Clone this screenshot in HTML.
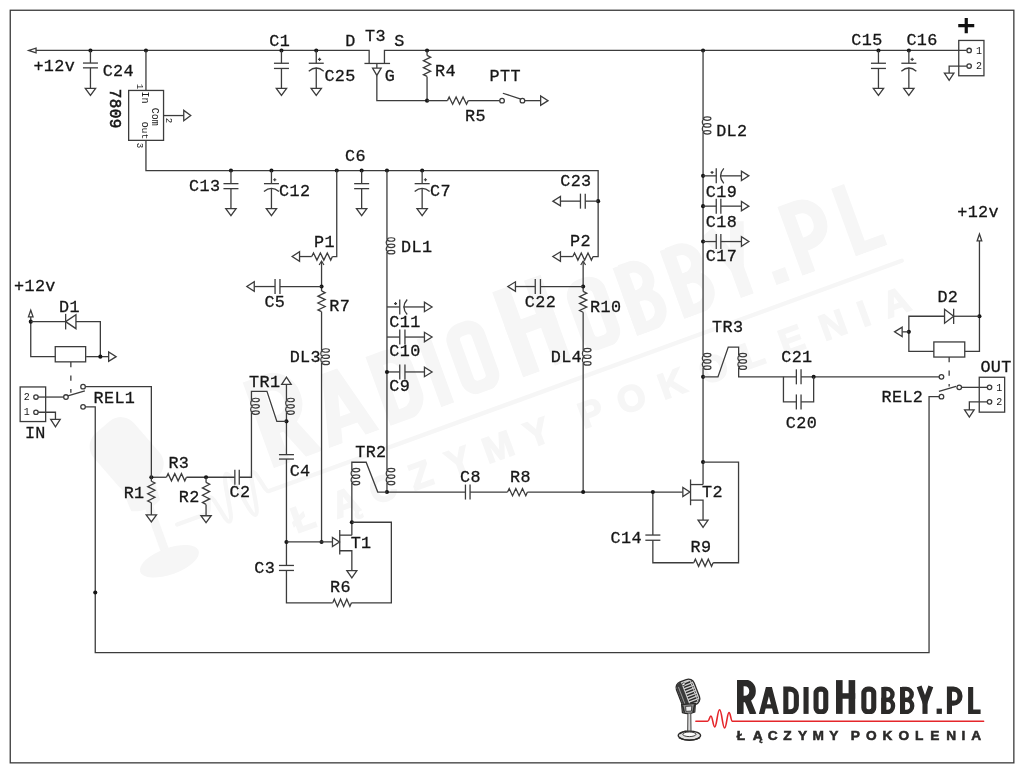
<!DOCTYPE html>
<html><head><meta charset="utf-8"><title>schematic</title>
<style>
html,body{margin:0;padding:0;background:#fff}
svg{display:block;will-change:transform}
.sch path,.sch rect,.sch circle{fill:none;stroke:#3c3c3c;stroke-width:1.3;stroke-linecap:butt;stroke-linejoin:miter}
.sch .d{fill:#161616;stroke:none}
.sch .o{fill:#fff}
.sch .t{stroke-width:1.2}
.sch .e{stroke:#fff;stroke-width:1.6}
text{font-family:"Liberation Mono",monospace}
text.l{fill:#161616;stroke:#161616;stroke-width:.3px;letter-spacing:.35px}
text.m{fill:#161616}
text.b{stroke-width:.55px}
text.s{font-family:"Liberation Sans",sans-serif;font-weight:bold}
</style></head><body>
<svg width="1024" height="773" viewBox="0 0 1024 773">
<defs><clipPath id="capband"><rect x="730" y="679.9" width="260" height="34"/></clipPath></defs>
<rect width="1024" height="773" fill="#fff"/>
<g transform="translate(901.4 260.8) rotate(-20) scale(2.68) translate(-983.5 -721.25)">
<g clip-path="url(#capband)"><path d="M740.3 713.9 V682.87 H744.94 A7.56 7.56 0 0 1 752.5 690.44 V691.46 A7.56 7.56 0 0 1 744.94 699.03 H740.3" fill="none" stroke="#f6f6f6" stroke-width="6.6" stroke-linejoin="miter" stroke-miterlimit="6"/><path d="M746.6 698.03 L753.4 714.7" fill="none" stroke="#f6f6f6" stroke-width="6.27" stroke-linejoin="miter" stroke-miterlimit="6"/><path fill-rule="evenodd" fill="#f6f6f6" d="M758.9 713.9 L765.9 687 L771.9 687 L778.9 713.9 L773.49 713.9 L772.09 708.52 L765.71 708.52 L764.31 713.9 Z M766.83 704.22 L770.97 704.22 L768.9 696.25 Z"/><path d="M785.85 689.14 H790.05 A6.3 6.3 0 0 1 796.35 695.44 V705.46 A6.3 6.3 0 0 1 790.05 711.76 H785.85 Z" fill="none" stroke="#f6f6f6" stroke-width="5.1" stroke-linejoin="miter" stroke-miterlimit="6"/><rect x="803.5" y="687" width="5.1" height="26.9" fill="#f6f6f6"/><path d="M816.05 693.02 A3.88 3.88 0 0 1 819.93 689.14 H821.87 A3.88 3.88 0 0 1 825.75 693.02 V707.88 A3.88 3.88 0 0 1 821.87 711.76 H819.93 A3.88 3.88 0 0 1 816.05 707.88 Z" fill="none" stroke="#f6f6f6" stroke-width="5.1" stroke-linejoin="miter" stroke-miterlimit="6"/><rect x="836" y="680.1" width="6.6" height="33.8" fill="#f6f6f6"/><rect x="848.6" y="680.1" width="6.6" height="33.8" fill="#f6f6f6"/><rect x="836" y="693.21" width="19.2" height="5.54" fill="#f6f6f6"/><path d="M863.85 693.1 A3.96 3.96 0 0 1 867.81 689.14 H869.79 A3.96 3.96 0 0 1 873.75 693.1 V707.8 A3.96 3.96 0 0 1 869.79 711.76 H867.81 A3.96 3.96 0 0 1 863.85 707.8 Z" fill="none" stroke="#f6f6f6" stroke-width="5.1" stroke-linejoin="miter" stroke-miterlimit="6"/><path d="M883.49 688.84 H886.97 A5.53 5.53 0 0 1 892.51 694.38 V694.38 A5.53 5.53 0 0 1 886.97 699.91 H883.49" fill="none" stroke="#f6f6f6" stroke-width="4.39" stroke-linejoin="miter" stroke-miterlimit="6"/><path d="M883.49 699.91 H887.3 A5.71 5.71 0 0 1 893.01 705.62 V706.35 A5.71 5.71 0 0 1 887.3 712.06 H883.49 Z" fill="none" stroke="#f6f6f6" stroke-width="4.39" stroke-linejoin="miter" stroke-miterlimit="6"/><rect x="881.3" y="687" width="5.1" height="26.9" fill="#f6f6f6"/><path d="M902.19 688.84 H906.17 A5.53 5.53 0 0 1 911.71 694.38 V694.38 A5.53 5.53 0 0 1 906.17 699.91 H902.19" fill="none" stroke="#f6f6f6" stroke-width="4.39" stroke-linejoin="miter" stroke-miterlimit="6"/><path d="M902.19 699.91 H906.2 A6.01 6.01 0 0 1 912.21 705.92 V706.05 A6.01 6.01 0 0 1 906.2 712.06 H902.19 Z" fill="none" stroke="#f6f6f6" stroke-width="4.39" stroke-linejoin="miter" stroke-miterlimit="6"/><rect x="900" y="687" width="5.1" height="26.9" fill="#f6f6f6"/><path d="M919.15 686.4 L925 702.6 L930.85 686.4" fill="none" stroke="#f6f6f6" stroke-width="5.1" stroke-linejoin="miter" stroke-miterlimit="6"/><rect x="922.45" y="700.6" width="5.1" height="13.3" fill="#f6f6f6"/><rect x="936.6" y="708.6" width="5.3" height="5.3" fill="#f6f6f6"/><path d="M949.45 713.9 V689.14 H953.44 A6.51 6.51 0 0 1 959.95 695.65 V696.63 A6.51 6.51 0 0 1 953.44 703.14 H949.45" fill="none" stroke="#f6f6f6" stroke-width="5.1" stroke-linejoin="miter" stroke-miterlimit="6"/><path d="M968.1 687 V713.9 H980.6 V709.51 H973.2 V687 Z" fill="#f6f6f6"/></g>
<path d="M695.9 721.3 H707.6 C709.2 721.3 709.6 716 710.9 716 C712.6 716 713 726.9 714.7 726.9 C716.8 726.9 717.4 709.8 719.6 709.8 C721.8 709.8 722.5 727.9 724.6 727.9 C726.6 727.9 727.1 712.6 729 712.6 C730.6 712.6 730.8 721.3 732.4 721.3 H983.6" fill="none" stroke="#f6f6f6" stroke-width="1.6" stroke-linecap="round" stroke-linejoin="round"/>
<text x="740.9" y="739.7" font-size="13.7" text-anchor="middle" class="s" fill="#f6f6f6" stroke="#f6f6f6" stroke-width=".55">Ł</text>
<text x="757.6" y="739.7" font-size="13.7" text-anchor="middle" class="s" fill="#f6f6f6" stroke="#f6f6f6" stroke-width=".55">Ą</text>
<text x="772.6" y="739.7" font-size="13.7" text-anchor="middle" class="s" fill="#f6f6f6" stroke="#f6f6f6" stroke-width=".55">C</text>
<text x="787.5" y="739.7" font-size="13.7" text-anchor="middle" class="s" fill="#f6f6f6" stroke="#f6f6f6" stroke-width=".55">Z</text>
<text x="802.6" y="739.7" font-size="13.7" text-anchor="middle" class="s" fill="#f6f6f6" stroke="#f6f6f6" stroke-width=".55">Y</text>
<text x="818.3" y="739.7" font-size="13.7" text-anchor="middle" class="s" fill="#f6f6f6" stroke="#f6f6f6" stroke-width=".55">M</text>
<text x="833.9" y="739.7" font-size="13.7" text-anchor="middle" class="s" fill="#f6f6f6" stroke="#f6f6f6" stroke-width=".55">Y</text>
<text x="855.2" y="739.7" font-size="13.7" text-anchor="middle" class="s" fill="#f6f6f6" stroke="#f6f6f6" stroke-width=".55">P</text>
<text x="871.3" y="739.7" font-size="13.7" text-anchor="middle" class="s" fill="#f6f6f6" stroke="#f6f6f6" stroke-width=".55">O</text>
<text x="887.4" y="739.7" font-size="13.7" text-anchor="middle" class="s" fill="#f6f6f6" stroke="#f6f6f6" stroke-width=".55">K</text>
<text x="903.8" y="739.7" font-size="13.7" text-anchor="middle" class="s" fill="#f6f6f6" stroke="#f6f6f6" stroke-width=".55">O</text>
<text x="919.3" y="739.7" font-size="13.7" text-anchor="middle" class="s" fill="#f6f6f6" stroke="#f6f6f6" stroke-width=".55">L</text>
<text x="934.8" y="739.7" font-size="13.7" text-anchor="middle" class="s" fill="#f6f6f6" stroke="#f6f6f6" stroke-width=".55">E</text>
<text x="951.3" y="739.7" font-size="13.7" text-anchor="middle" class="s" fill="#f6f6f6" stroke="#f6f6f6" stroke-width=".55">N</text>
<text x="963.5" y="739.7" font-size="13.7" text-anchor="middle" class="s" fill="#f6f6f6" stroke="#f6f6f6" stroke-width=".55">I</text>
<text x="976.3" y="739.7" font-size="13.7" text-anchor="middle" class="s" fill="#f6f6f6" stroke="#f6f6f6" stroke-width=".55">A</text>
<g transform="translate(-0.9 -2.6)"><g transform="rotate(-21 688 693)"><rect x="678" y="679.4" width="19.8" height="27.4" rx="6.4" fill="#f6f6f6"/></g><path d="M682 704 L694.6 703 L694 713 Q688.6 716 682.4 713.4 Z" fill="#f6f6f6"/><rect x="687.6" y="713" width="3.2" height="19" fill="#f6f6f6"/><ellipse cx="689.4" cy="735.8" rx="11.6" ry="4.9" fill="#f6f6f6"/></g>
</g>
<g class="sch" transform="translate(.45 .45)">
<rect x="9.8" y="9.8" width="1003.6" height="752.6" style="stroke:#3a3a3a;stroke-width:1.3"/>
<path class="o" d="M35.6 47.6 L35.6 52.4 L28.2 50 Z"/>
<path d="M35.6 50 L368.7 50 L368.7 63"/>
<path d="M384 63 L384 50 L966.4 50"/>
<circle class="d" cx="90" cy="50" r="2.05"/>
<circle class="d" cx="145.5" cy="50" r="2.05"/>
<circle class="d" cx="281" cy="50" r="2.05"/>
<circle class="d" cx="315.8" cy="50" r="2.05"/>
<circle class="d" cx="426.6" cy="50" r="2.05"/>
<circle class="d" cx="702.6" cy="50" r="2.05"/>
<circle class="d" cx="878" cy="50" r="2.05"/>
<circle class="d" cx="908.4" cy="50" r="2.05"/>
<path d="M90 50 L90 62.6"/>
<path d="M82.5 62.6 L97.5 62.6"/>
<path d="M82.5 67.4 L97.5 67.4"/>
<path d="M90 67.4 L90 88"/>
<path class="o" d="M84.85 88 L95.15 88 L90 95 Z"/>
<path d="M145.5 50 L145.5 90"/>
<rect x="128.2" y="90" width="34.9" height="49.9"/>
<path d="M145.5 139.9 L145.5 170.1 L597.7 170.1 L597.7 256.1 L592.6 256.1"/>
<path d="M163.1 115.1 L183.3 115.1"/>
<path class="o" d="M183.3 109.95 L183.3 120.25 L190.3 115.1 Z"/>
<path d="M281 50 L281 62.8"/>
<path d="M273.5 62.8 L288.5 62.8"/>
<path d="M273.5 68 L288.5 68"/>
<path d="M281 68 L281 88"/>
<path class="o" d="M275.85 88 L286.15 88 L281 95 Z"/>
<path d="M315.8 50 L315.8 62.8"/>
<path d="M308.3 62.8 L323.3 62.8"/>
<path d="M308.3 70.75 Q315.8 64.25 323.3 70.75"/>
<path class="t" d="M317.5 58.9 h3.2 M319.1 57.3 v3.2"/>
<path d="M315.8 67.2 L315.8 88"/>
<path class="o" d="M310.65 88 L320.95 88 L315.8 95 Z"/>
<path d="M364 63 L389.6 63"/>
<path class="o" d="M372.1 67.6 L380.7 67.6 L376.4 75 Z"/>
<path d="M376.4 63 L376.4 67.6"/>
<path d="M376.4 75 L376.4 100.2 L426.6 100.2"/>
<path d="M426.6 50 L426.6 55"/>
<path d="M426.6 55 L430.2 56.75 L423 60.25 L430.2 63.75 L423 67.25 L430.2 70.75 L423 74.25 L426.6 76"/>
<path d="M426.6 76 L426.6 100.2"/>
<circle class="d" cx="426.6" cy="100.2" r="2.05"/>
<path d="M426.6 100.2 L447 100.2"/>
<path d="M447 100.2 L448.73 96.6 L452.2 103.8 L455.67 96.6 L459.13 103.8 L462.6 96.6 L466.07 103.8 L467.8 100.2"/>
<path d="M467.8 100.2 L499.3 100.2"/>
<circle class="o" cx="501.6" cy="100.2" r="2.3"/>
<circle class="o" cx="522" cy="100.2" r="2.3"/>
<path d="M502.4 92.8 L520.4 98.6"/>
<path d="M524.3 100.2 L540.2 100.2"/>
<path class="o" d="M540.2 95.45 L540.2 104.95 L547.6 100.2 Z"/>
<path d="M878 50 L878 62.8"/>
<path d="M870.5 62.8 L885.5 62.8"/>
<path d="M870.5 68 L885.5 68"/>
<path d="M878 68 L878 88"/>
<path class="o" d="M872.85 88 L883.15 88 L878 95 Z"/>
<path d="M908.4 50 L908.4 62.8"/>
<path d="M900.9 62.8 L915.9 62.8"/>
<path d="M900.9 70.75 Q908.4 64.25 915.9 70.75"/>
<path class="t" d="M910.1 58.9 h3.2 M911.7 57.3 v3.2"/>
<path d="M908.4 67.2 L908.4 88"/>
<path class="o" d="M903.25 88 L913.55 88 L908.4 95 Z"/>
<rect x="958.3" y="40" width="25.2" height="35.3"/>
<circle class="o" cx="968.7" cy="50" r="2.2"/>
<circle class="o" cx="968.7" cy="65.6" r="2.2"/>
<path d="M966.5 65.6 L948.7 65.6 L948.7 72.6"/>
<path class="o" d="M943.95 72.6 L953.45 72.6 L948.7 79.8 Z"/>
<path d="M957.8 25.2 h16 M965.8 17.6 v15.2" style="stroke-width:3.2;stroke:#111"/>
<circle class="d" cx="230.5" cy="170.1" r="2.05"/>
<circle class="d" cx="271" cy="170.1" r="2.05"/>
<circle class="d" cx="336.3" cy="170.1" r="2.05"/>
<circle class="d" cx="361.2" cy="170.1" r="2.05"/>
<circle class="d" cx="386.5" cy="170.1" r="2.05"/>
<circle class="d" cx="421.7" cy="170.1" r="2.05"/>
<path d="M230.5 170.1 L230.5 183.2"/>
<path d="M223 183.2 L238 183.2"/>
<path d="M223 188.2 L238 188.2"/>
<path d="M230.5 188.2 L230.5 208.1"/>
<path class="o" d="M225.35 208.1 L235.65 208.1 L230.5 215.1 Z"/>
<path d="M271 170.1 L271 183.2"/>
<path d="M263.5 183.2 L278.5 183.2"/>
<path d="M263.5 191.15 Q271 184.65 278.5 191.15"/>
<path class="t" d="M272.7 179.3 h3.2 M274.3 177.7 v3.2"/>
<path d="M271 188.2 L271 208.1"/>
<path class="o" d="M265.85 208.1 L276.15 208.1 L271 215.1 Z"/>
<path d="M361.2 170.1 L361.2 183.2"/>
<path d="M353.7 183.2 L368.7 183.2"/>
<path d="M353.7 188.2 L368.7 188.2"/>
<path d="M361.2 188.2 L361.2 208.1"/>
<path class="o" d="M356.05 208.1 L366.35 208.1 L361.2 215.1 Z"/>
<path d="M421.7 170.1 L421.7 183.2"/>
<path d="M414.2 183.2 L429.2 183.2"/>
<path d="M414.2 191.15 Q421.7 184.65 429.2 191.15"/>
<path class="t" d="M423.4 179.3 h3.2 M425 177.7 v3.2"/>
<path d="M421.7 188.2 L421.7 208.1"/>
<path class="o" d="M416.55 208.1 L426.85 208.1 L421.7 215.1 Z"/>
<path d="M336.3 170.1 L336.3 256.1 L332 256.1"/>
<path d="M311.3 256.1 L313.03 252.5 L316.48 259.7 L319.93 252.5 L323.38 259.7 L326.82 252.5 L330.27 259.7 L332 256.1"/>
<path d="M311.3 256.1 L299.1 256.1"/>
<path class="o" d="M299.1 251.35 L299.1 260.85 L291.7 256.1 Z"/>
<path d="M321.1 261 L321.1 290.5"/>
<path class="t" d="M318.7 264.6 L321.1 260.6 L323.5 264.6"/>
<circle class="d" cx="321.1" cy="286.1" r="2.05"/>
<path d="M321.1 286.1 L279.5 286.1"/>
<path d="M274.6 278.6 L274.6 293.6"/>
<path d="M279.5 278.6 L279.5 293.6"/>
<path d="M274.6 286.1 L253.8 286.1"/>
<path class="o" d="M253.8 281.35 L253.8 290.85 L246.4 286.1 Z"/>
<path d="M321.1 290.5 L324.7 292.23 L317.5 295.68 L324.7 299.12 L317.5 302.57 L324.7 306.02 L317.5 309.47 L321.1 311.2"/>
<path d="M321.1 311.2 L321.1 541.5"/>
<path class="e" d="M321.1 350.35 V362.15"/>
<path class="t" d="M321.6 350.05 a3.7 1.75 0 1 0 7.4 0 a3.7 1.75 0 1 0 -7.4 0 M321.6 356.25 a3.7 1.75 0 1 0 7.4 0 a3.7 1.75 0 1 0 -7.4 0 M321.6 362.45 a3.7 1.75 0 1 0 7.4 0 a3.7 1.75 0 1 0 -7.4 0 M321.8 350.05 Q318.9 353.15 321.8 356.25 M321.8 356.25 Q318.9 359.35 321.8 362.45"/>
<path d="M386.5 170.1 L386.5 491.6"/>
<path class="e" d="M386.5 239.35 V251.45"/>
<path class="t" d="M387 239.05 a3.7 1.75 0 1 0 7.4 0 a3.7 1.75 0 1 0 -7.4 0 M387 245.4 a3.7 1.75 0 1 0 7.4 0 a3.7 1.75 0 1 0 -7.4 0 M387 251.75 a3.7 1.75 0 1 0 7.4 0 a3.7 1.75 0 1 0 -7.4 0 M387.2 239.05 Q384.3 242.23 387.2 245.4 M387.2 245.4 Q384.3 248.57 387.2 251.75"/>
<path d="M386.5 306.5 L399.3 306.5"/>
<path d="M399.3 299 L399.3 314"/>
<path d="M406.75 299 Q400.25 306.5 406.75 314"/>
<path class="t" d="M393.6 303.1 h3 M395.1 301.6 v3"/>
<path d="M403 306.5 L424 306.5"/>
<path class="o" d="M424 301.75 L424 311.25 L431.6 306.5 Z"/>
<path d="M386.5 336.6 L399.3 336.6"/>
<path d="M399.3 329.1 L399.3 344.1"/>
<path d="M404.5 329.1 L404.5 344.1"/>
<path d="M404.5 336.6 L424 336.6"/>
<path class="o" d="M424 331.85 L424 341.35 L431.6 336.6 Z"/>
<path d="M386.5 371.5 L399.3 371.5"/>
<path d="M399.3 364 L399.3 379"/>
<path d="M404.5 364 L404.5 379"/>
<path d="M404.5 371.5 L424 371.5"/>
<path class="o" d="M424 366.75 L424 376.25 L431.6 371.5 Z"/>
<circle class="d" cx="386.5" cy="371.5" r="2.05"/>
<circle class="d" cx="597.7" cy="200.7" r="2.05"/>
<path d="M597.7 200.7 L584.8 200.7"/>
<path d="M580 193.2 L580 208.2"/>
<path d="M584.8 193.2 L584.8 208.2"/>
<path d="M580 200.7 L560 200.7"/>
<path class="o" d="M560 195.95 L560 205.45 L552.4 200.7 Z"/>
<path d="M572.4 256.1 L574.08 252.5 L577.45 259.7 L580.82 252.5 L584.18 259.7 L587.55 252.5 L590.92 259.7 L592.6 256.1"/>
<path d="M572.4 256.1 L560 256.1"/>
<path class="o" d="M560 251.35 L560 260.85 L552.4 256.1 Z"/>
<path d="M582.7 261 L582.7 291"/>
<path class="t" d="M580.3 264.6 L582.7 260.6 L585.1 264.6"/>
<circle class="d" cx="582.7" cy="286.1" r="2.05"/>
<path d="M582.7 286.1 L540 286.1"/>
<path d="M534.8 278.6 L534.8 293.6"/>
<path d="M540 278.6 L540 293.6"/>
<path d="M534.8 286.1 L515 286.1"/>
<path class="o" d="M515 281.35 L515 290.85 L507.4 286.1 Z"/>
<path d="M582.7 291 L586.3 292.73 L579.1 296.2 L586.3 299.67 L579.1 303.13 L586.3 306.6 L579.1 310.07 L582.7 311.8"/>
<path d="M582.7 311.8 L582.7 491.6"/>
<path class="e" d="M582.7 349.95 V362.65"/>
<path class="t" d="M583.2 349.65 a3.7 1.75 0 1 0 7.4 0 a3.7 1.75 0 1 0 -7.4 0 M583.2 356.3 a3.7 1.75 0 1 0 7.4 0 a3.7 1.75 0 1 0 -7.4 0 M583.2 362.95 a3.7 1.75 0 1 0 7.4 0 a3.7 1.75 0 1 0 -7.4 0 M583.4 349.65 Q580.5 352.97 583.4 356.3 M583.4 356.3 Q580.5 359.62 583.4 362.95"/>
<path d="M702.6 50 L702.6 484.1"/>
<path class="e" d="M702.6 118.45 V131.55"/>
<path class="t" d="M703.1 118.15 a3.7 1.75 0 1 0 7.4 0 a3.7 1.75 0 1 0 -7.4 0 M703.1 125 a3.7 1.75 0 1 0 7.4 0 a3.7 1.75 0 1 0 -7.4 0 M703.1 131.85 a3.7 1.75 0 1 0 7.4 0 a3.7 1.75 0 1 0 -7.4 0 M703.3 118.15 Q700.4 121.58 703.3 125 M703.3 125 Q700.4 128.43 703.3 131.85"/>
<circle class="d" cx="702.6" cy="175.4" r="2.05"/>
<path d="M702.6 175.4 L715.8 175.4"/>
<path d="M715.8 167.9 L715.8 182.9"/>
<path d="M723.35 167.9 Q716.85 175.4 723.35 182.9"/>
<path class="t" d="M710.1 172 h3 M711.6 170.5 v3"/>
<path d="M719.6 175.4 L741 175.4"/>
<path class="o" d="M741 170.65 L741 180.15 L748.4 175.4 Z"/>
<circle class="d" cx="702.6" cy="205.7" r="2.05"/>
<path d="M702.6 205.7 L715.8 205.7"/>
<path d="M715.8 198.2 L715.8 213.2"/>
<path d="M720.4 198.2 L720.4 213.2"/>
<path d="M720.4 205.7 L741 205.7"/>
<path class="o" d="M741 200.95 L741 210.45 L748.4 205.7 Z"/>
<circle class="d" cx="702.6" cy="241.1" r="2.05"/>
<path d="M702.6 241.1 L715.8 241.1"/>
<path d="M715.8 233.6 L715.8 248.6"/>
<path d="M720.4 233.6 L720.4 248.6"/>
<path d="M720.4 241.1 L741 241.1"/>
<path class="o" d="M741 236.35 L741 245.85 L748.4 241.1 Z"/>
<path class="e" d="M702.6 354.95 V366.95"/>
<path class="t" d="M703.1 354.65 a3.7 1.75 0 1 0 7.4 0 a3.7 1.75 0 1 0 -7.4 0 M703.1 360.95 a3.7 1.75 0 1 0 7.4 0 a3.7 1.75 0 1 0 -7.4 0 M703.1 367.25 a3.7 1.75 0 1 0 7.4 0 a3.7 1.75 0 1 0 -7.4 0 M703.3 354.65 Q700.4 357.8 703.3 360.95 M703.3 360.95 Q700.4 364.1 703.3 367.25"/>
<circle class="d" cx="702.6" cy="376.4" r="2.05"/>
<path d="M702.6 376.4 L717.5 376.4 L727.8 346.6 L738.2 346.6 L738.2 376.4 L795.9 376.4"/>
<path class="e" d="M738.2 354.95 V366.95"/>
<path class="t" d="M738.7 354.65 a3.7 1.75 0 1 0 7.4 0 a3.7 1.75 0 1 0 -7.4 0 M738.7 360.95 a3.7 1.75 0 1 0 7.4 0 a3.7 1.75 0 1 0 -7.4 0 M738.7 367.25 a3.7 1.75 0 1 0 7.4 0 a3.7 1.75 0 1 0 -7.4 0 M738.9 354.65 Q736 357.8 738.9 360.95 M738.9 360.95 Q736 364.1 738.9 367.25"/>
<path d="M795.9 368.9 L795.9 383.9"/>
<path d="M800.6 368.9 L800.6 383.9"/>
<path d="M800.6 376.4 L938.7 376.4"/>
<circle class="d" cx="813.2" cy="376.4" r="2.05"/>
<path d="M783 376.4 L783 401.5 L795.9 401.5"/>
<path d="M795.9 394 L795.9 409"/>
<path d="M800.6 394 L800.6 409"/>
<path d="M800.6 401.5 L813.2 401.5 L813.2 376.4"/>
<circle class="d" cx="702.6" cy="461.6" r="2.05"/>
<path d="M702.6 461.6 L738.1 461.6 L738.1 562.3 L712.7 562.3"/>
<path d="M693.3 562.3 L694.92 558.7 L698.15 565.9 L701.38 558.7 L704.62 565.9 L707.85 558.7 L711.08 565.9 L712.7 562.3"/>
<path d="M693.3 562.3 L652.4 562.3 L652.4 539.8"/>
<path d="M644.9 534.6 L659.9 534.6"/>
<path d="M644.9 539.8 L659.9 539.8"/>
<path d="M652.4 534.6 L652.4 491.6"/>
<path d="M386.5 491.6 L465 491.6"/>
<path d="M465 484.1 L465 499.1"/>
<path d="M469.6 484.1 L469.6 499.1"/>
<path d="M469.6 491.6 L507.1 491.6"/>
<path d="M507.1 491.6 L508.76 488 L512.08 495.2 L515.39 488 L518.71 495.2 L522.02 488 L525.34 495.2 L527 491.6"/>
<path d="M527 491.6 L682.4 491.6"/>
<circle class="d" cx="386.5" cy="491.6" r="2.05"/>
<circle class="d" cx="582.7" cy="491.6" r="2.05"/>
<circle class="d" cx="652.4" cy="491.6" r="2.05"/>
<path class="o" d="M682.4 487.1 L682.4 496.1 L689.4 491.6 Z"/>
<path d="M690.1 479 L690.1 504.8"/>
<path d="M690.1 484.1 L702.6 484.1"/>
<path d="M690.1 499.7 L702.6 499.7 L702.6 519.6"/>
<path class="o" d="M697.6 519.6 L707.6 519.6 L702.6 526.8 Z"/>
<path d="M351.4 534.7 L351.4 461.8 L365.7 461.8 L377.3 491.6 L386.5 491.6"/>
<path class="e" d="M351.4 469.95 V482.35"/>
<path class="t" d="M351.9 469.65 a3.7 1.75 0 1 0 7.4 0 a3.7 1.75 0 1 0 -7.4 0 M351.9 476.15 a3.7 1.75 0 1 0 7.4 0 a3.7 1.75 0 1 0 -7.4 0 M351.9 482.65 a3.7 1.75 0 1 0 7.4 0 a3.7 1.75 0 1 0 -7.4 0 M352.1 469.65 Q349.2 472.9 352.1 476.15 M352.1 476.15 Q349.2 479.4 352.1 482.65"/>
<path class="e" d="M386.5 469.95 V482.35"/>
<path class="t" d="M387 469.65 a3.7 1.75 0 1 0 7.4 0 a3.7 1.75 0 1 0 -7.4 0 M387 476.15 a3.7 1.75 0 1 0 7.4 0 a3.7 1.75 0 1 0 -7.4 0 M387 482.65 a3.7 1.75 0 1 0 7.4 0 a3.7 1.75 0 1 0 -7.4 0 M387.2 469.65 Q384.3 472.9 387.2 476.15 M387.2 476.15 Q384.3 479.4 387.2 482.65"/>
<circle class="d" cx="351.4" cy="521.8" r="2.05"/>
<path d="M351.4 521.8 L390.9 521.8 L390.9 602.4 L351 602.4"/>
<path d="M332.3 602.4 L333.86 598.8 L336.98 606 L340.09 598.8 L343.21 606 L346.33 598.8 L349.44 606 L351 602.4"/>
<path d="M332.3 602.4 L286 602.4 L286 570"/>
<path d="M278.5 565 L293.5 565"/>
<path d="M278.5 570 L293.5 570"/>
<path d="M286 565 L286 458.6"/>
<path d="M278.5 454.2 L293.5 454.2"/>
<path d="M278.5 458.6 L293.5 458.6"/>
<path d="M286 454.2 L286 384"/>
<path class="o" d="M281.25 384 L290.75 384 L286 376.8 Z"/>
<circle class="d" cx="286" cy="541.5" r="2.05"/>
<circle class="d" cx="321.1" cy="541.5" r="2.05"/>
<circle class="d" cx="286" cy="420.9" r="2.05"/>
<path d="M286 541.5 L332 541.5"/>
<path class="o" d="M332 537 L332 546 L339 541.5 Z"/>
<path d="M339.3 529.6 L339.3 554"/>
<path d="M339.3 534.7 L351.4 534.7"/>
<path d="M339.3 550.3 L351.4 550.3 L351.4 570.1"/>
<path class="o" d="M346.4 570.1 L356.4 570.1 L351.4 577.3 Z"/>
<path d="M238.8 476.8 L251 476.8 L251 390.9 L266.5 390.9 L276.4 420.9 L286 420.9"/>
<path class="e" d="M251 399.85 V411.85"/>
<path class="t" d="M251.5 399.55 a3.7 1.75 0 1 0 7.4 0 a3.7 1.75 0 1 0 -7.4 0 M251.5 405.85 a3.7 1.75 0 1 0 7.4 0 a3.7 1.75 0 1 0 -7.4 0 M251.5 412.15 a3.7 1.75 0 1 0 7.4 0 a3.7 1.75 0 1 0 -7.4 0 M251.7 399.55 Q248.8 402.7 251.7 405.85 M251.7 405.85 Q248.8 409 251.7 412.15"/>
<path class="e" d="M286 399.85 V411.85"/>
<path class="t" d="M286.5 399.55 a3.7 1.75 0 1 0 7.4 0 a3.7 1.75 0 1 0 -7.4 0 M286.5 405.85 a3.7 1.75 0 1 0 7.4 0 a3.7 1.75 0 1 0 -7.4 0 M286.5 412.15 a3.7 1.75 0 1 0 7.4 0 a3.7 1.75 0 1 0 -7.4 0 M286.7 399.55 Q283.8 402.7 286.7 405.85 M286.7 405.85 Q283.8 409 286.7 412.15"/>
<path d="M234.4 469.3 L234.4 484.3"/>
<path d="M238.8 469.3 L238.8 484.3"/>
<path d="M234.4 476.8 L186 476.8"/>
<path d="M166 476.8 L167.67 473.2 L171 480.4 L174.33 473.2 L177.67 480.4 L181 473.2 L184.33 480.4 L186 476.8"/>
<path d="M166 476.8 L150.9 476.8"/>
<circle class="d" cx="150.9" cy="476.8" r="2.05"/>
<circle class="d" cx="205.6" cy="476.8" r="2.05"/>
<path d="M150.9 476.8 L150.9 480.8"/>
<path d="M150.9 480.8 L154.5 482.59 L147.3 486.18 L154.5 489.76 L147.3 493.34 L154.5 496.92 L147.3 500.51 L150.9 502.3"/>
<path d="M150.9 502.3 L150.9 514.5"/>
<path class="o" d="M145.75 514.5 L156.05 514.5 L150.9 521.5 Z"/>
<path d="M205.6 476.8 L205.6 482"/>
<path d="M205.6 482 L209.2 483.83 L202 487.5 L209.2 491.17 L202 494.83 L209.2 498.5 L202 502.17 L205.6 504"/>
<path d="M205.6 504 L205.6 515.3"/>
<path class="o" d="M200.45 515.3 L210.75 515.3 L205.6 522.3 Z"/>
<path d="M150.9 476.8 L150.9 386.2 L84.9 386.2"/>
<circle class="o" cx="82.6" cy="386.2" r="2.3"/>
<circle class="o" cx="82.6" cy="406.4" r="2.3"/>
<circle class="o" cx="65.5" cy="396.6" r="2.3"/>
<path d="M67.4 395.4 L84.4 390.4"/>
<path d="M84.9 406.4 L94.8 406.4 L94.8 652.1 L928.6 652.1 L928.6 396.2 L938.7 396.2"/>
<circle class="d" cx="94.8" cy="592" r="2.05"/>
<rect x="19.7" y="386.5" width="25.5" height="34.6"/>
<circle class="o" cx="35.5" cy="396.6" r="2.2"/>
<circle class="o" cx="35.5" cy="411.8" r="2.2"/>
<path d="M37.7 396.6 L63.2 396.6"/>
<path d="M37.7 411.8 L55 411.8 L55 419"/>
<path class="o" d="M50.25 419 L59.75 419 L55 426.4 Z"/>
<rect x="54.8" y="346.2" width="30.4" height="15.2"/>
<path d="M70.4 361.6 V392.4" stroke-dasharray="5.2 8.3"/>
<path d="M55.1 356.2 L30.3 356.2 L30.3 316.4"/>
<path class="o" d="M28 316.4 L32.6 316.4 L30.3 309.8 Z"/>
<circle class="d" cx="30.3" cy="321.2" r="2.05"/>
<path d="M30.3 321.2 L65.2 321.2"/>
<path d="M65.2 313.4 L65.2 329"/>
<path class="o" d="M65.2 321.2 L75.5 314.2 L75.5 328.2 Z"/>
<path d="M75.5 321.2 L99.9 321.2 L99.9 356.2"/>
<path d="M85.7 356.2 L108.2 356.2"/>
<path class="o" d="M108.2 351.45 L108.2 360.95 L115.7 356.2 Z"/>
<circle class="d" cx="99.9" cy="356.2" r="2.05"/>
<circle class="o" cx="941" cy="376.4" r="2.3"/>
<circle class="o" cx="941" cy="396.2" r="2.3"/>
<circle class="o" cx="958.8" cy="386.9" r="2.3"/>
<path d="M955.6 385.9 L938.5 390.9"/>
<path d="M961.1 386.9 L986.9 386.9"/>
<rect x="978.8" y="376.8" width="25.4" height="34.9"/>
<circle class="o" cx="989.1" cy="386.9" r="2.2"/>
<circle class="o" cx="989.1" cy="401.4" r="2.2"/>
<path d="M986.9 401.4 L968.9 401.4 L968.9 409.5"/>
<path class="o" d="M964.15 409.5 L973.65 409.5 L968.9 416.7 Z"/>
<rect x="933.4" y="341.5" width="30.9" height="15.1"/>
<path d="M948.7 356.6 V386" stroke-dasharray="5.2 8.3"/>
<path d="M964.3 351 L979 351 L979 240.5"/>
<path class="o" d="M976.7 240.5 L981.3 240.5 L979 233.7 Z"/>
<circle class="d" cx="979" cy="315.8" r="2.05"/>
<path d="M979 315.8 L953.2 315.8"/>
<path d="M953.2 308.2 L953.2 323.6"/>
<path class="o" d="M953.2 315.8 L944.1 308.9 L944.1 322.7 Z"/>
<path d="M944.1 315.8 L908.4 315.8 L908.4 351 L933.4 351"/>
<circle class="d" cx="908.4" cy="331.4" r="2.05"/>
<path d="M908.4 331.4 L901.7 331.4"/>
<path class="o" d="M901.7 326.65 L901.7 336.15 L894.1 331.4 Z"/>
</g>
<g transform="translate(.45 .45)">
<text x="33" y="70.2" font-size="16.8" text-anchor="start" class="l">+12v</text>
<text x="102.2" y="75.9" font-size="16.8" text-anchor="start" class="l">C24</text>
<text transform="translate(109.8 88.4) rotate(90)" font-size="16.0" class="l b">7809</text>
<text transform="translate(141.9 91) rotate(90)" font-size="10" class="m">In</text>
<text transform="translate(151.8 107.4) rotate(90)" font-size="10" class="m">Com</text>
<text transform="translate(141.9 121.2) rotate(90)" font-size="9.8" class="m">Out</text>
<text transform="translate(136.8 83.2) rotate(90)" font-size="9" class="m">1</text>
<text transform="translate(165.8 117.4) rotate(90)" font-size="9" class="m">2</text>
<text transform="translate(136.9 142.4) rotate(90)" font-size="9" class="m">3</text>
<text x="268.9" y="45.6" font-size="16.8" text-anchor="start" class="l">C1</text>
<text x="324" y="80.3" font-size="16.8" text-anchor="start" class="l">C25</text>
<text x="344.7" y="45.6" font-size="16.8" text-anchor="start" class="l">D</text>
<text x="364.6" y="40.1" font-size="16.8" text-anchor="start" class="l">T3</text>
<text x="393.9" y="45.6" font-size="16.8" text-anchor="start" class="l">S</text>
<text x="384.3" y="80.3" font-size="16.8" text-anchor="start" class="l">G</text>
<text x="434.6" y="75.1" font-size="16.8" text-anchor="start" class="l">R4</text>
<text x="464.6" y="120.6" font-size="16.8" text-anchor="start" class="l">R5</text>
<text x="489.1" y="80.5" font-size="16.8" text-anchor="start" class="l">PTT</text>
<text x="850.9" y="44.9" font-size="16.8" text-anchor="start" class="l">C15</text>
<text x="906" y="44.9" font-size="16.8" text-anchor="start" class="l">C16</text>
<text x="975.6" y="53.2" font-size="10" text-anchor="start" class="m">1</text>
<text x="975.6" y="68.8" font-size="10" text-anchor="start" class="m">2</text>
<text x="188.6" y="190.9" font-size="16.8" text-anchor="start" class="l">C13</text>
<text x="278.6" y="196" font-size="16.8" text-anchor="start" class="l">C12</text>
<text x="344.6" y="160.4" font-size="16.8" text-anchor="start" class="l">C6</text>
<text x="429.6" y="196" font-size="16.8" text-anchor="start" class="l">C7</text>
<text x="313.6" y="246.5" font-size="16.8" text-anchor="start" class="l">P1</text>
<text x="264" y="306.6" font-size="16.8" text-anchor="start" class="l">C5</text>
<text x="328.8" y="310.7" font-size="16.8" text-anchor="start" class="l">R7</text>
<text x="289.2" y="361.2" font-size="16.8" text-anchor="start" class="l">DL3</text>
<text x="400.6" y="251.1" font-size="16.8" text-anchor="start" class="l">DL1</text>
<text x="388.9" y="326.2" font-size="16.8" text-anchor="start" class="l">C11</text>
<text x="388.9" y="356" font-size="16.8" text-anchor="start" class="l">C10</text>
<text x="388.9" y="390.9" font-size="16.8" text-anchor="start" class="l">C9</text>
<text x="559.8" y="185.7" font-size="16.8" text-anchor="start" class="l">C23</text>
<text x="569.6" y="245.8" font-size="16.8" text-anchor="start" class="l">P2</text>
<text x="524.4" y="306.6" font-size="16.8" text-anchor="start" class="l">C22</text>
<text x="589.6" y="311.3" font-size="16.8" text-anchor="start" class="l">R10</text>
<text x="550.3" y="361.6" font-size="16.8" text-anchor="start" class="l">DL4</text>
<text x="715.7" y="135.9" font-size="16.8" text-anchor="start" class="l">DL2</text>
<text x="705.4" y="196.1" font-size="16.8" text-anchor="start" class="l">C19</text>
<text x="705.4" y="226.4" font-size="16.8" text-anchor="start" class="l">C18</text>
<text x="705.4" y="260.8" font-size="16.8" text-anchor="start" class="l">C17</text>
<text x="711.6" y="332" font-size="16.8" text-anchor="start" class="l">TR3</text>
<text x="780.8" y="361.6" font-size="16.8" text-anchor="start" class="l">C21</text>
<text x="785.4" y="427.7" font-size="16.8" text-anchor="start" class="l">C20</text>
<text x="701.6" y="497" font-size="16.8" text-anchor="start" class="l">T2</text>
<text x="610.1" y="542.5" font-size="16.8" text-anchor="start" class="l">C14</text>
<text x="690.1" y="552" font-size="16.8" text-anchor="start" class="l">R9</text>
<text x="459.6" y="482" font-size="16.8" text-anchor="start" class="l">C8</text>
<text x="509.6" y="482" font-size="16.8" text-anchor="start" class="l">R8</text>
<text x="354.8" y="456.5" font-size="16.8" text-anchor="start" class="l">TR2</text>
<text x="350.2" y="547.5" font-size="16.8" text-anchor="start" class="l">T1</text>
<text x="329.6" y="592" font-size="16.8" text-anchor="start" class="l">R6</text>
<text x="253.9" y="572.2" font-size="16.8" text-anchor="start" class="l">C3</text>
<text x="289.2" y="476" font-size="16.8" text-anchor="start" class="l">C4</text>
<text x="248.6" y="386.2" font-size="16.8" text-anchor="start" class="l">TR1</text>
<text x="123.2" y="497.2" font-size="16.8" text-anchor="start" class="l">R1</text>
<text x="178.3" y="501.8" font-size="16.8" text-anchor="start" class="l">R2</text>
<text x="168" y="467.4" font-size="16.8" text-anchor="start" class="l">R3</text>
<text x="229.1" y="496.7" font-size="16.8" text-anchor="start" class="l">C2</text>
<text x="23.4" y="399.8" font-size="10" text-anchor="start" class="m">2</text>
<text x="23.4" y="415" font-size="10" text-anchor="start" class="m">1</text>
<text x="24.5" y="437.7" font-size="16.8" text-anchor="start" class="l">IN</text>
<text x="93.1" y="402.1" font-size="16.8" text-anchor="start" class="l">REL1</text>
<text x="13.6" y="290.5" font-size="16.8" text-anchor="start" class="l">+12v</text>
<text x="58.6" y="311.2" font-size="16.8" text-anchor="start" class="l">D1</text>
<text x="995.8" y="390.2" font-size="10" text-anchor="start" class="m">1</text>
<text x="995.8" y="404.6" font-size="10" text-anchor="start" class="m">2</text>
<text x="980" y="371.9" font-size="16.8" text-anchor="start" class="l">OUT</text>
<text x="881.1" y="401.9" font-size="16.8" text-anchor="start" class="l">REL2</text>
<text x="956.8" y="216.2" font-size="16.8" text-anchor="start" class="l">+12v</text>
<text x="937" y="301.6" font-size="16.8" text-anchor="start" class="l">D2</text>
</g>
<rect x="660" y="662" width="344" height="92" fill="#fff"/>
<g clip-path="url(#capband)"><path d="M740.3 713.9 V682.87 H744.94 A7.56 7.56 0 0 1 752.5 690.44 V691.46 A7.56 7.56 0 0 1 744.94 699.03 H740.3" fill="none" stroke="#2b2a29" stroke-width="6.6" stroke-linejoin="miter" stroke-miterlimit="6"/><path d="M746.6 698.03 L753.4 714.7" fill="none" stroke="#2b2a29" stroke-width="6.27" stroke-linejoin="miter" stroke-miterlimit="6"/><path fill-rule="evenodd" fill="#2b2a29" d="M758.9 713.9 L765.9 687 L771.9 687 L778.9 713.9 L773.49 713.9 L772.09 708.52 L765.71 708.52 L764.31 713.9 Z M766.83 704.22 L770.97 704.22 L768.9 696.25 Z"/><path d="M785.85 689.14 H790.05 A6.3 6.3 0 0 1 796.35 695.44 V705.46 A6.3 6.3 0 0 1 790.05 711.76 H785.85 Z" fill="none" stroke="#2b2a29" stroke-width="5.1" stroke-linejoin="miter" stroke-miterlimit="6"/><rect x="803.5" y="687" width="5.1" height="26.9" fill="#2b2a29"/><path d="M816.05 693.02 A3.88 3.88 0 0 1 819.93 689.14 H821.87 A3.88 3.88 0 0 1 825.75 693.02 V707.88 A3.88 3.88 0 0 1 821.87 711.76 H819.93 A3.88 3.88 0 0 1 816.05 707.88 Z" fill="none" stroke="#2b2a29" stroke-width="5.1" stroke-linejoin="miter" stroke-miterlimit="6"/><rect x="836" y="680.1" width="6.6" height="33.8" fill="#2b2a29"/><rect x="848.6" y="680.1" width="6.6" height="33.8" fill="#2b2a29"/><rect x="836" y="693.21" width="19.2" height="5.54" fill="#2b2a29"/><path d="M863.85 693.1 A3.96 3.96 0 0 1 867.81 689.14 H869.79 A3.96 3.96 0 0 1 873.75 693.1 V707.8 A3.96 3.96 0 0 1 869.79 711.76 H867.81 A3.96 3.96 0 0 1 863.85 707.8 Z" fill="none" stroke="#2b2a29" stroke-width="5.1" stroke-linejoin="miter" stroke-miterlimit="6"/><path d="M883.49 688.84 H886.97 A5.53 5.53 0 0 1 892.51 694.38 V694.38 A5.53 5.53 0 0 1 886.97 699.91 H883.49" fill="none" stroke="#2b2a29" stroke-width="4.39" stroke-linejoin="miter" stroke-miterlimit="6"/><path d="M883.49 699.91 H887.3 A5.71 5.71 0 0 1 893.01 705.62 V706.35 A5.71 5.71 0 0 1 887.3 712.06 H883.49 Z" fill="none" stroke="#2b2a29" stroke-width="4.39" stroke-linejoin="miter" stroke-miterlimit="6"/><rect x="881.3" y="687" width="5.1" height="26.9" fill="#2b2a29"/><path d="M902.19 688.84 H906.17 A5.53 5.53 0 0 1 911.71 694.38 V694.38 A5.53 5.53 0 0 1 906.17 699.91 H902.19" fill="none" stroke="#2b2a29" stroke-width="4.39" stroke-linejoin="miter" stroke-miterlimit="6"/><path d="M902.19 699.91 H906.2 A6.01 6.01 0 0 1 912.21 705.92 V706.05 A6.01 6.01 0 0 1 906.2 712.06 H902.19 Z" fill="none" stroke="#2b2a29" stroke-width="4.39" stroke-linejoin="miter" stroke-miterlimit="6"/><rect x="900" y="687" width="5.1" height="26.9" fill="#2b2a29"/><path d="M919.15 686.4 L925 702.6 L930.85 686.4" fill="none" stroke="#2b2a29" stroke-width="5.1" stroke-linejoin="miter" stroke-miterlimit="6"/><rect x="922.45" y="700.6" width="5.1" height="13.3" fill="#2b2a29"/><rect x="936.6" y="708.6" width="5.3" height="5.3" fill="#2b2a29"/><path d="M949.45 713.9 V689.14 H953.44 A6.51 6.51 0 0 1 959.95 695.65 V696.63 A6.51 6.51 0 0 1 953.44 703.14 H949.45" fill="none" stroke="#2b2a29" stroke-width="5.1" stroke-linejoin="miter" stroke-miterlimit="6"/><path d="M968.1 687 V713.9 H980.6 V709.51 H973.2 V687 Z" fill="#2b2a29"/></g>
<path d="M695.9 721.3 H707.6 C709.2 721.3 709.6 716 710.9 716 C712.6 716 713 726.9 714.7 726.9 C716.8 726.9 717.4 709.8 719.6 709.8 C721.8 709.8 722.5 727.9 724.6 727.9 C726.6 727.9 727.1 712.6 729 712.6 C730.6 712.6 730.8 721.3 732.4 721.3 H983.6" fill="none" stroke="#e5262b" stroke-width="1.6" stroke-linecap="round" stroke-linejoin="round"/>
<text x="740.9" y="739.7" font-size="13.7" text-anchor="middle" class="s" fill="#2b2a29" stroke="#2b2a29" stroke-width=".55">Ł</text>
<text x="757.6" y="739.7" font-size="13.7" text-anchor="middle" class="s" fill="#2b2a29" stroke="#2b2a29" stroke-width=".55">Ą</text>
<text x="772.6" y="739.7" font-size="13.7" text-anchor="middle" class="s" fill="#2b2a29" stroke="#2b2a29" stroke-width=".55">C</text>
<text x="787.5" y="739.7" font-size="13.7" text-anchor="middle" class="s" fill="#2b2a29" stroke="#2b2a29" stroke-width=".55">Z</text>
<text x="802.6" y="739.7" font-size="13.7" text-anchor="middle" class="s" fill="#2b2a29" stroke="#2b2a29" stroke-width=".55">Y</text>
<text x="818.3" y="739.7" font-size="13.7" text-anchor="middle" class="s" fill="#2b2a29" stroke="#2b2a29" stroke-width=".55">M</text>
<text x="833.9" y="739.7" font-size="13.7" text-anchor="middle" class="s" fill="#2b2a29" stroke="#2b2a29" stroke-width=".55">Y</text>
<text x="855.2" y="739.7" font-size="13.7" text-anchor="middle" class="s" fill="#2b2a29" stroke="#2b2a29" stroke-width=".55">P</text>
<text x="871.3" y="739.7" font-size="13.7" text-anchor="middle" class="s" fill="#2b2a29" stroke="#2b2a29" stroke-width=".55">O</text>
<text x="887.4" y="739.7" font-size="13.7" text-anchor="middle" class="s" fill="#2b2a29" stroke="#2b2a29" stroke-width=".55">K</text>
<text x="903.8" y="739.7" font-size="13.7" text-anchor="middle" class="s" fill="#2b2a29" stroke="#2b2a29" stroke-width=".55">O</text>
<text x="919.3" y="739.7" font-size="13.7" text-anchor="middle" class="s" fill="#2b2a29" stroke="#2b2a29" stroke-width=".55">L</text>
<text x="934.8" y="739.7" font-size="13.7" text-anchor="middle" class="s" fill="#2b2a29" stroke="#2b2a29" stroke-width=".55">E</text>
<text x="951.3" y="739.7" font-size="13.7" text-anchor="middle" class="s" fill="#2b2a29" stroke="#2b2a29" stroke-width=".55">N</text>
<text x="963.5" y="739.7" font-size="13.7" text-anchor="middle" class="s" fill="#2b2a29" stroke="#2b2a29" stroke-width=".55">I</text>
<text x="976.3" y="739.7" font-size="13.7" text-anchor="middle" class="s" fill="#2b2a29" stroke="#2b2a29" stroke-width=".55">A</text>
<g transform="rotate(-21 688 693)"><rect x="678.4" y="679.8" width="19" height="26.6" rx="6.2" ry="6" fill="#d2d2d2" stroke="#2b2a29" stroke-width="1.3"/><path d="M685.2 680.2 Q679 680.4 678.9 686.4 V699.8 Q679 705.8 685.2 706 Z" fill="#3a3a3a"/><path d="M681.2 684 V702" stroke="#9a9a9a" stroke-width=".9"/><path d="M686.2 683.4 H695.6" stroke="#2b2a29" stroke-width="1.5"/><path d="M686.2 686.25 H695.6" stroke="#2b2a29" stroke-width="1.5"/><path d="M686.2 689.1 H695.6" stroke="#2b2a29" stroke-width="1.5"/><path d="M686.2 691.95 H695.6" stroke="#2b2a29" stroke-width="1.5"/><path d="M686.2 694.8 H695.6" stroke="#2b2a29" stroke-width="1.5"/><path d="M686.2 697.65 H695.6" stroke="#2b2a29" stroke-width="1.5"/><path d="M686.2 700.5 H695.6" stroke="#2b2a29" stroke-width="1.5"/><path d="M686.2 703.35 H695.6" stroke="#2b2a29" stroke-width="1.5"/><path d="M694.4 683 V704" stroke="#efefef" stroke-width="1" stroke-dasharray="1.2 1.65"/><ellipse cx="687" cy="683.2" rx="1.7" ry="1.3" fill="#f4f4f4" stroke="#2b2a29" stroke-width=".7"/></g><path d="M681.6 704.6 L695.4 703.4 L694.8 712 Q688.8 715 682.4 712.6 Z" fill="#8e8e8e" stroke="#2b2a29" stroke-width="1.2"/><path d="M685.6 706.4 L691.8 706 L691.4 711 L686 711.4 Z" fill="#ededed" stroke="#2b2a29" stroke-width=".8"/><path d="M682.6 705.4 L684.4 712.6 M694.6 704.4 L693 712.4" stroke="#2b2a29" stroke-width="1.5"/><rect x="687.9" y="713.6" width="2.9" height="18.6" fill="#d9d9d9"/><path d="M687.9 713.6 L687.7 731.6 M690.8 713.6 L691 731.6" stroke="#2b2a29" stroke-width=".9" fill="none"/><ellipse cx="689.4" cy="735.6" rx="11.2" ry="4.5" fill="#e3e3e3" stroke="#2b2a29" stroke-width="1.3"/><ellipse cx="689.4" cy="734.3" rx="6.6" ry="2.3" fill="#fafafa" stroke="#2b2a29" stroke-width=".9"/><path d="M678.9 737.6 Q689.4 743 699.9 737.6" stroke="#2b2a29" stroke-width="1.4" fill="none"/><path d="M680 734 Q682 731.4 686.6 731" stroke="#2b2a29" stroke-width="1.2" fill="none"/>
</svg>
</body></html>
